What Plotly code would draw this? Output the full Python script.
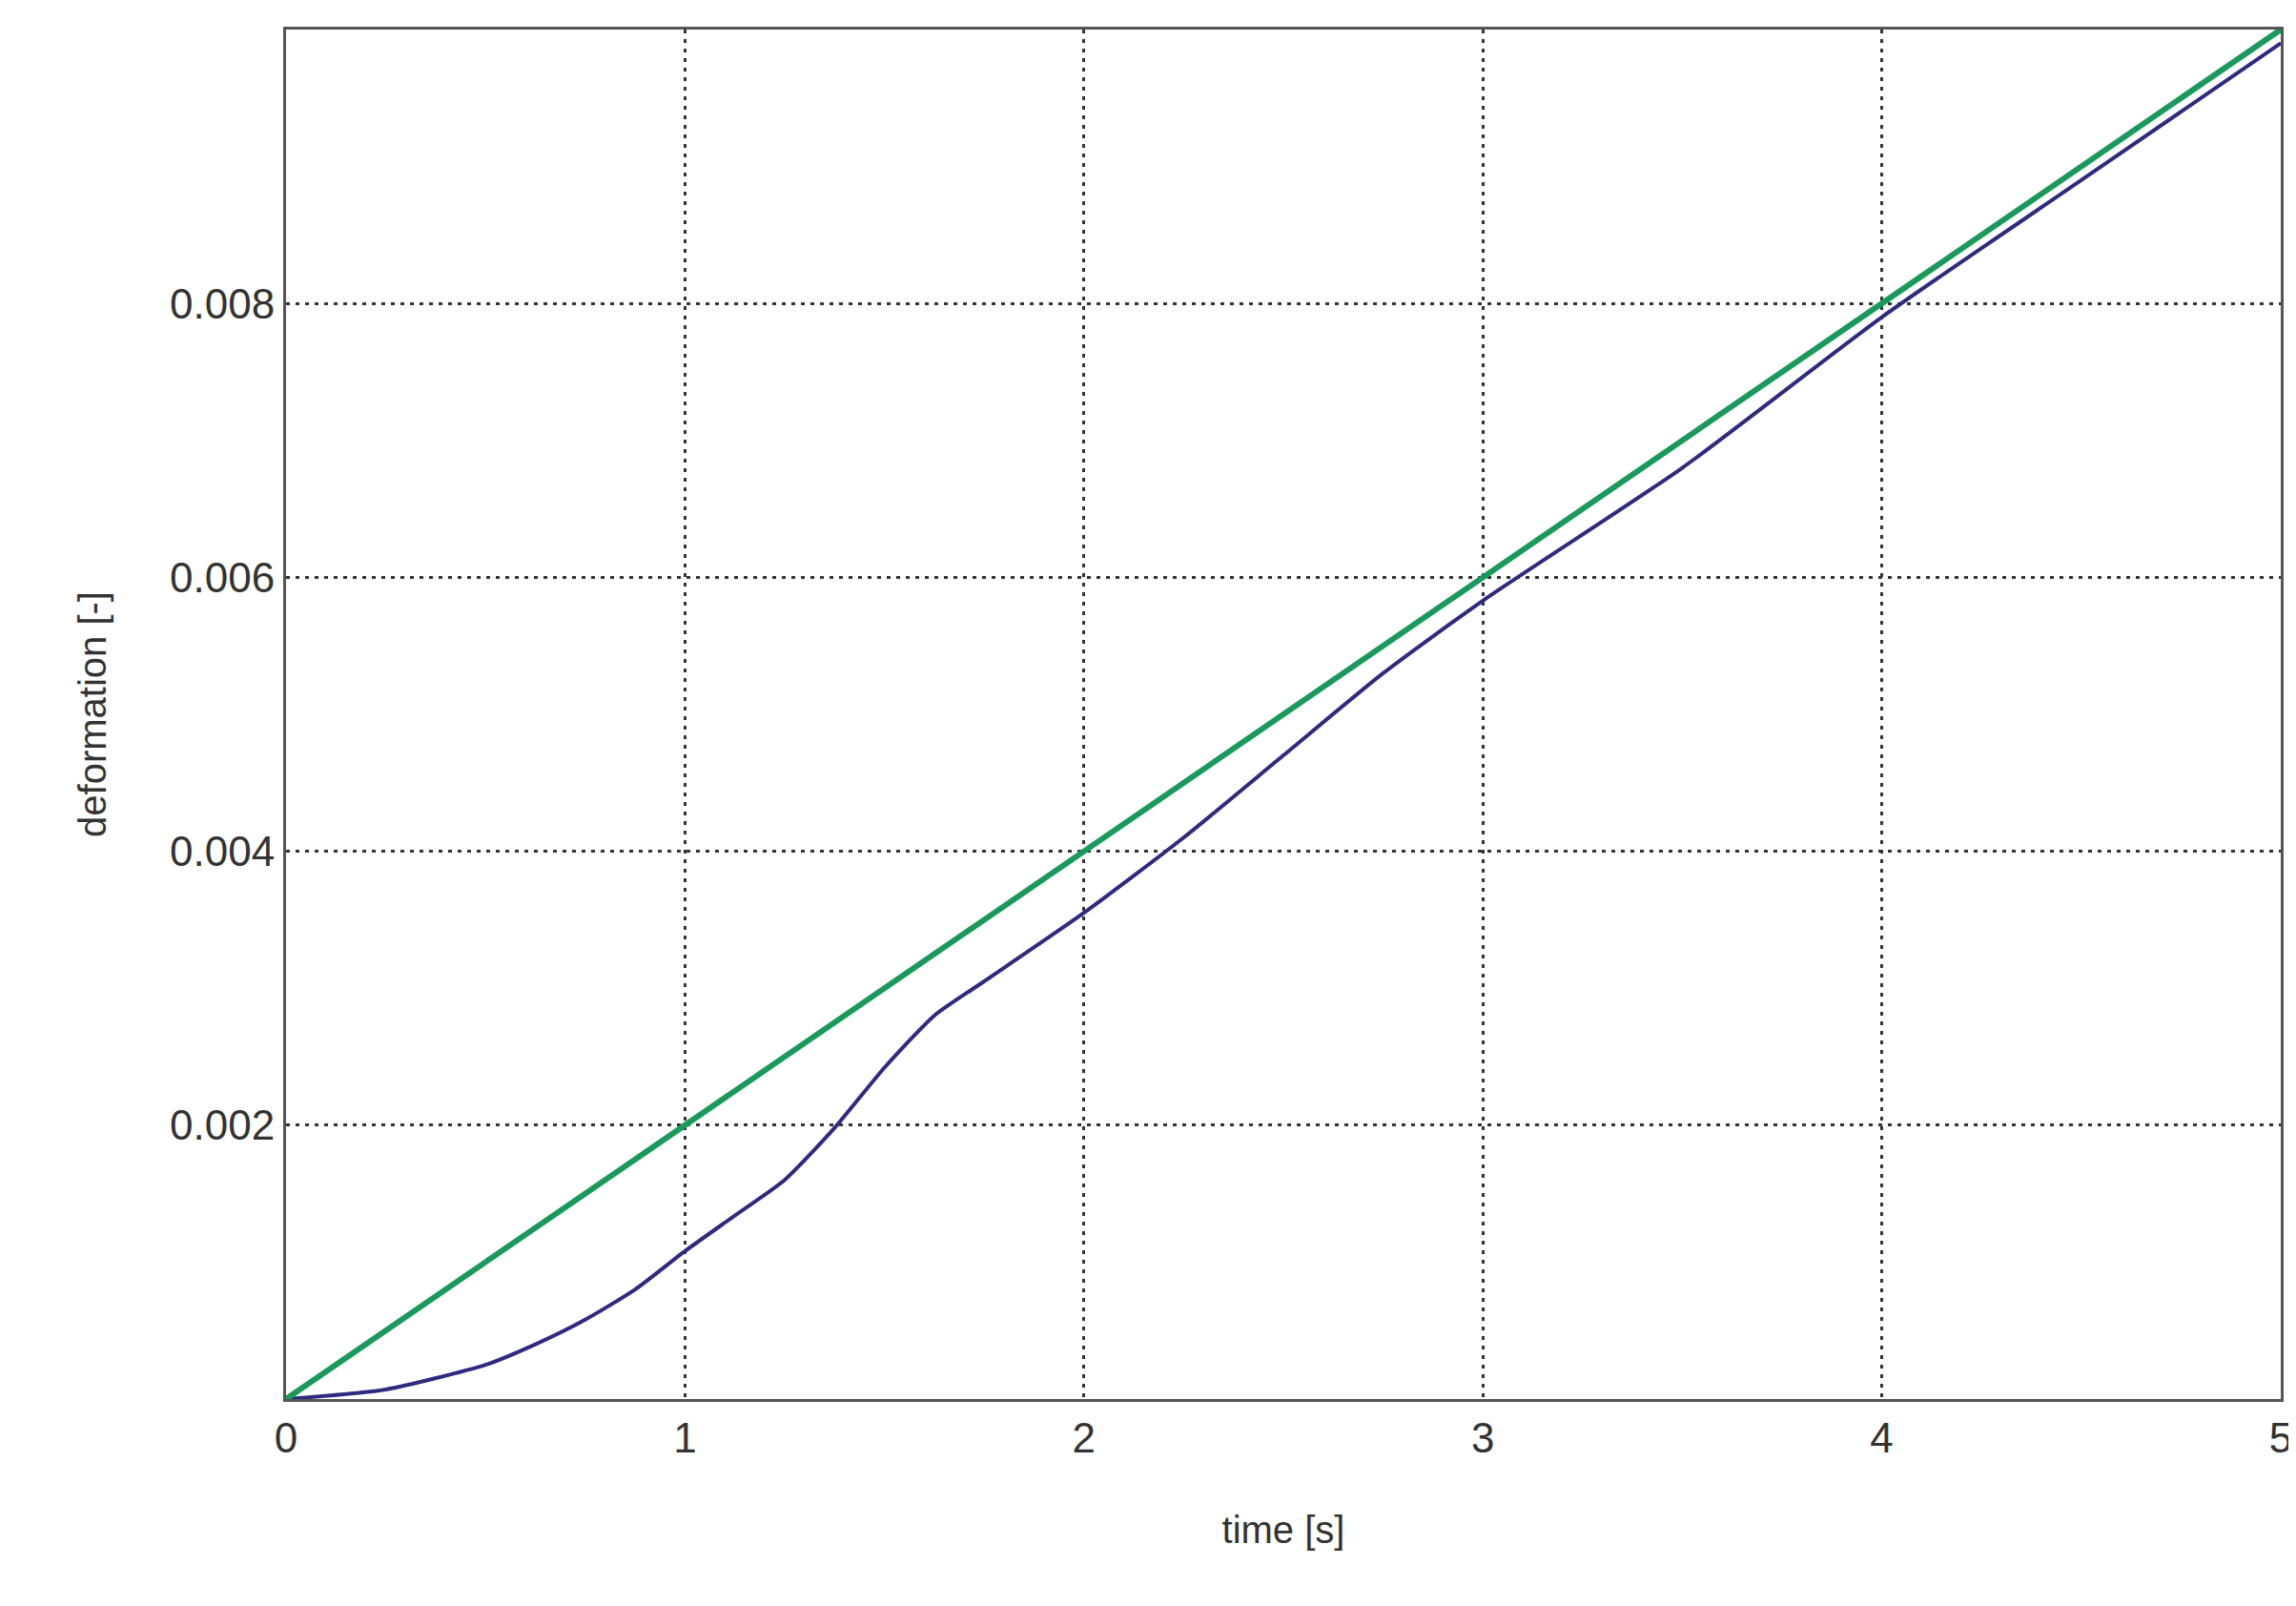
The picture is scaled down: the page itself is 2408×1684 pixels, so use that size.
import plotly.graph_objects as go

t_blue = [0, 0.25, 0.5, 0.625, 0.75, 0.875, 1.0, 1.125, 1.25, 1.375, 1.5, 1.625, 1.75, 2.0, 2.25, 2.5, 2.75, 3.0, 3.5, 4.0, 4.5, 5.0]
d_blue = [0, 0.00007, 0.00025, 0.0004, 0.00058, 0.0008, 0.00108, 0.00134, 0.0016, 0.00198, 0.00242, 0.0028, 0.00305, 0.00355, 0.0041, 0.0047, 0.0053, 0.00583, 0.0068, 0.0079, 0.0089, 0.0099]
t_green = [0, 5]
d_green = [0, 0.010]
x_ticks = [0, 1, 2, 3, 4, 5]
y_ticks = [0.002, 0.004, 0.006, 0.008, 0.010]
y_labels = ["0.002", "0.004", "0.006", "0.008", "0.010"]

fig = go.Figure()
fig.add_trace(go.Scatter(x=t_blue, y=d_blue, mode="lines", line=dict(color="#2e2a80", width=4, shape="spline", smoothing=0.6)))
fig.add_trace(go.Scatter(x=t_green, y=d_green, mode="lines", line=dict(color="#1a9a5a", width=6)))

ax = dict(showline=True, linecolor="#555", linewidth=3, mirror=True, showgrid=True,
          gridcolor="#333", griddash="4px,6px", gridwidth=3, zeroline=False, ticks="",
          tickfont=dict(size=44, color="#333"))
fig.update_layout(
    width=2408, height=1684, showlegend=False,
    plot_bgcolor="white", paper_bgcolor="white",
    font=dict(family="Liberation Sans, Arial", color="#333"),
    margin=dict(l=292, r=24, t=23, b=225),
    xaxis=dict(ax, range=[0, 5], tickvals=x_ticks,
               title=dict(text="time [s]", font=dict(size=40), standoff=60)),
    yaxis=dict(ax, range=[0, 0.010], tickvals=y_ticks, ticktext=y_labels,
               title=dict(text="deformation [-]", font=dict(size=40), standoff=55)),
)
fig.write_html("out.html")
